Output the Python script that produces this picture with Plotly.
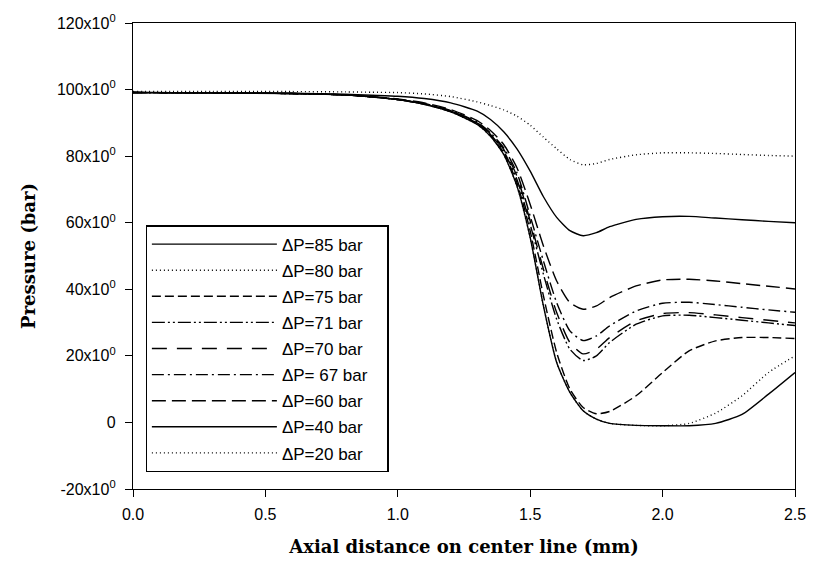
import plotly.graph_objects as go

x_mm = [0, 0.3, 0.6, 0.8, 0.9, 1.0, 1.1, 1.2, 1.3, 1.35, 1.4, 1.45, 1.5, 1.55,
        1.6, 1.65, 1.7, 1.75, 1.8, 1.9, 2.0, 2.1, 2.2, 2.3, 2.4, 2.5]

p85 = [99.1, 99.0, 98.8, 98.4, 97.8, 97.0, 95.6, 93.3, 89.5, 86.0, 80.5, 71.0, 55.5, 35.0,
       18.0, 9.0, 3.5, 1.0, -0.3, -0.9, -1.0, -1.0, -0.3, 2.4, 8.5, 15.0]
p80 = [99.1, 99.0, 98.8, 98.4, 97.8, 97.0, 95.6, 93.3, 89.5, 86.0, 80.5, 71.0, 55.5, 35.0,
       18.0, 9.0, 3.5, 1.0, -0.3, -0.9, -1.0, -0.3, 2.8, 8.0, 15.0, 20.0]
p75 = [99.1, 99.0, 98.8, 98.4, 97.8, 97.0, 95.6, 93.4, 89.7, 86.3, 81.0, 72.0, 57.5, 38.0,
       21.0, 10.0, 4.5, 2.6, 3.3, 8.0, 15.0, 21.5, 24.5, 25.5, 25.5, 25.2]
p71 = [99.1, 99.0, 98.8, 98.4, 97.8, 97.0, 95.7, 93.5, 89.9, 86.5, 81.5, 73.0, 59.5, 44.5,
       31.0, 22.0, 18.6, 20.0, 24.0, 29.5, 32.0, 32.2, 31.5, 30.7, 29.9, 29.1]
p70 = [99.1, 99.0, 98.8, 98.4, 97.8, 97.0, 95.7, 93.6, 90.0, 86.7, 82.0, 74.0, 60.5, 46.0,
       33.0, 24.0, 20.6, 22.0, 25.5, 30.5, 32.7, 33.0, 32.3, 31.5, 30.7, 29.9]
p67 = [99.1, 99.0, 98.8, 98.4, 97.8, 97.0, 95.8, 93.7, 90.2, 87.0, 82.5, 75.0, 62.0, 48.5,
       36.0, 27.5, 24.6, 26.0, 29.0, 33.5, 35.8, 36.1, 35.4, 34.6, 33.8, 33.1]
p60 = [99.1, 99.0, 98.8, 98.4, 97.9, 97.2, 96.0, 94.0, 90.7, 87.7, 83.5, 76.5, 65.5, 53.0,
       42.5, 36.0, 34.0, 35.0, 37.5, 41.0, 42.8, 43.0, 42.5, 41.7, 40.9, 40.1]
p40 = [99.1, 99.0, 98.9, 98.6, 98.3, 98.0, 97.3, 96.0, 93.5, 91.0, 87.3, 82.2, 75.5, 67.8,
       61.6, 57.6, 56.1, 57.0, 58.8, 61.0, 61.8, 61.9, 61.4, 60.9, 60.4, 60.0]
p20 = [99.4, 99.4, 99.4, 99.3, 99.2, 99.1, 98.7, 97.9, 96.3, 95.2, 93.9, 92.0, 89.3, 85.7,
       82.2, 79.0, 77.4, 77.8, 79.0, 80.4, 81.0, 81.0, 80.8, 80.5, 80.2, 80.0]

series_names = ["ΔP=85 bar", "ΔP=80 bar", "ΔP=75 bar", "ΔP=71 bar", "ΔP=70 bar",
                "ΔP= 67 bar", "ΔP=60 bar", "ΔP=40 bar", "ΔP=20 bar"]
series_values = [p85, p80, p75, p71, p70, p67, p60, p40, p20]
dashes = ["solid", "1px,3px", "9px,4px", "13px,3px,2px,3px,2px,3px", "15px,10px",
          "12px,4px,2px,4px", "14px,6px", "solid", "1px,3px"]

y_ticks = [-20, 0, 20, 40, 60, 80, 100, 120]
y_ticktext = ["-20x10<sup>0</sup>", "0", "20x10<sup>0</sup>", "40x10<sup>0</sup>",
              "60x10<sup>0</sup>", "80x10<sup>0</sup>", "100x10<sup>0</sup>", "120x10<sup>0</sup>"]
x_ticks = [0.0, 0.5, 1.0, 1.5, 2.0, 2.5]

fig = go.Figure()
for i, (name, vals, d) in enumerate(zip(series_names, series_values, dashes)):
    fig.add_trace(go.Scatter(
        x=x_mm, y=vals, mode="lines", name=name + "\u00a0\u00a0\u00a0", legendgroup=f"g{i}",
        line=dict(color="black", width=1.4, dash=d, shape="spline", smoothing=0.6),
    ))

axis_font = dict(family="Liberation Sans, Arial", size=16, color="black")
title_font = dict(family="DejaVu Serif", size=18, color="black")

fig.update_layout(
    width=818, height=571, autosize=False,
    margin=dict(l=133, r=16, t=19, b=82),
    paper_bgcolor="white", plot_bgcolor="white",
    showlegend=True,
    legend=dict(
        x=0.019, y=0.566, xanchor="left", yanchor="top",
        bordercolor="black", borderwidth=1.3, bgcolor="white",
        font=dict(family="Liberation Sans, Arial", size=17, color="black"),
        itemwidth=125, tracegroupgap=1, traceorder="grouped",
    ),
    xaxis=dict(
        range=[0, 2.5], tickvals=x_ticks, tickformat=".1f",
        ticks="outside", ticklen=7, tickwidth=1.2, tickcolor="black",
        ticklabelstandoff=4,
        showline=True, linecolor="black", linewidth=1.3, mirror=True,
        showgrid=False, zeroline=False, tickfont=axis_font,
        title=dict(text="<b>Axial distance on center line (mm)</b>", font=title_font, standoff=18),
    ),
    yaxis=dict(
        range=[-20, 120], tickvals=y_ticks, ticktext=y_ticktext,
        ticks="outside", ticklen=7, tickwidth=1.2, tickcolor="black",
        ticklabelstandoff=6,
        showline=True, linecolor="black", linewidth=1.3, mirror=True,
        showgrid=False, zeroline=False, tickfont=axis_font,
        title=dict(text="<b>Pressure (bar)</b>", font=title_font, standoff=16),
    ),
)

fig.write_html("out.html")
